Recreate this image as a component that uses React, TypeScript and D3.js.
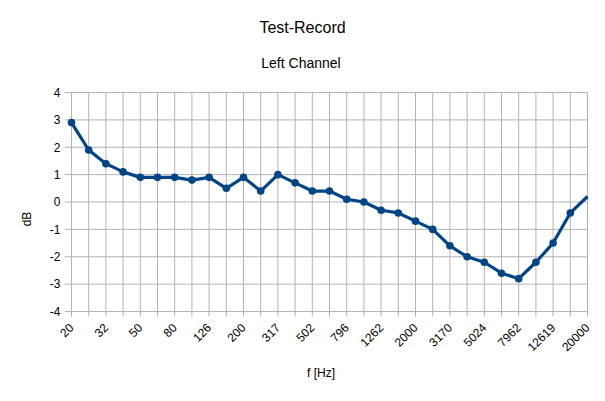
import React from "react";
import * as d3 from "d3";

const categories = ["20","25","32","40","50","63","80","100","126","158","200","251","317","399","502","632","796","1002","1262","1589","2000","2518","3170","3991","5024","6325","7962","10024","12619","15887","20000"];
const values = [2.9,1.9,1.4,1.1,0.9,0.9,0.9,0.8,0.9,0.5,0.9,0.4,1.0,0.7,0.4,0.4,0.1,0.0,-0.3,-0.4,-0.7,-1.0,-1.6,-2.0,-2.2,-2.6,-2.8,-2.2,-1.5,-0.4,0.2];
const yTicks = [-4,-3,-2,-1,0,1,2,3,4];
const title = "Test-Record";
const subtitle = "Left Channel";
const xTitle = "f [Hz]";
const yTitle = "dB";

const W = 605, H = 401;
const left = 71.5, right = 587.5, top = 92.5, bottom = 311.5;
const font = "'Liberation Sans', Arial, sans-serif";
const grid = "#b3b3b3";
const blue = "#004586";

export default function App() {
  const x = d3.scalePoint<string>().domain(categories).range([left, right]);
  const y = d3.scaleLinear().domain([-4, 4]).range([bottom, top]);
  const line = d3.line<number>().x((_, i) => x(categories[i])!).y(d => y(d));
  return (
    <svg width={W} height={H} style={{ position: "absolute", left: 0, top: 0, background: "#fff" }}>
      <rect x={0} y={0} width={W} height={H} fill="#fff" />
      <text x={302.5} y={32.7} textAnchor="middle" fontFamily={font} fontSize={16} fill="#000">{title}</text>
      <text x={301} y={68.3} textAnchor="middle" fontFamily={font} fontSize={14} fill="#000">{subtitle}</text>
      {categories.map((c, i) => (
        <line key={"v" + i} x1={x(c)} x2={x(c)} y1={top} y2={bottom + 5} stroke={grid} strokeWidth={1} />
      ))}
      {yTicks.map(t => (
        <line key={"h" + t} x1={left - 7} x2={right} y1={y(t)} y2={y(t)} stroke={grid} strokeWidth={1} />
      ))}
      {yTicks.map(t => (
        <text key={"yl" + t} x={60.5} y={y(t) + 4.3} textAnchor="end" fontFamily={font} fontSize={12} fill="#000">{t}</text>
      ))}
      {categories.map((c, i) => i % 2 === 0 ? (
        <text key={"xl" + i} transform={`translate(${x(c)! + 3},${bottom + 17}) rotate(-45)`} textAnchor="end" fontFamily={font} fontSize={12} fill="#000">{c}</text>
      ) : null)}
      <text transform={`translate(31,219) rotate(-90)`} textAnchor="middle" fontFamily={font} fontSize={12} fill="#000">{yTitle}</text>
      <text x={321} y={377} textAnchor="middle" fontFamily={font} fontSize={12} fill="#000">{xTitle}</text>
      <path d={line(values) || ""} fill="none" stroke={blue} strokeWidth={3.2} strokeLinejoin="round" />
      {values.slice(0, values.length - 1).map((v, i) => (
        <circle key={"p" + i} cx={x(categories[i])} cy={y(v)} r={3.8} fill={blue} />
      ))}
    </svg>
  );
}
